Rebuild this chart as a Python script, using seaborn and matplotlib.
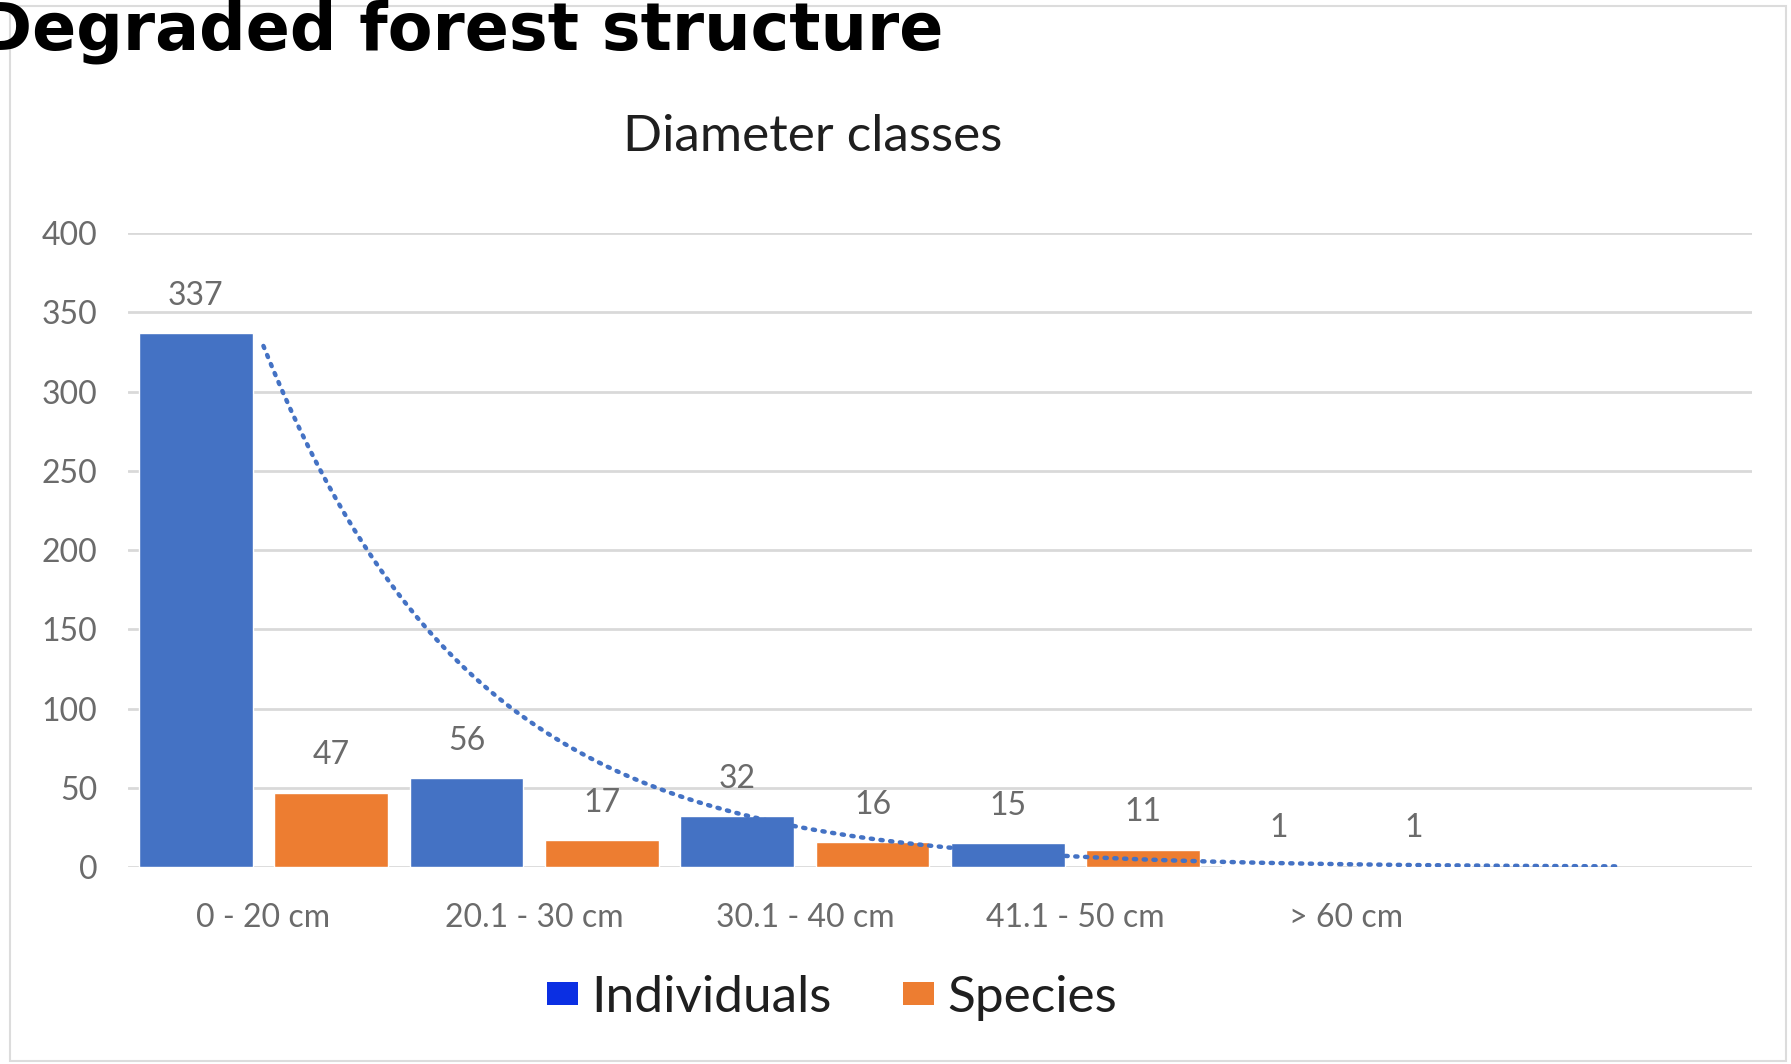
import numpy as np
import pandas as pd
import matplotlib
matplotlib.use("Agg")
import matplotlib.pyplot as plt
import seaborn as sns
from matplotlib.patches import Patch, Rectangle

# Tree counts per diameter class
diameter_classes = ["0 - 20 cm", "20.1 - 30 cm", "30.1 - 40 cm", "41.1 - 50 cm", "> 60 cm"]
individuals = [337, 56, 32, 15, 1]
species = [47, 17, 16, 11, 1]
series_names = ["Individuals", "Species"]
y_ticks = [0, 50, 100, 150, 200, 250, 300, 350, 400]

sns.set_theme(style="white")
plt.rcParams["font.family"] = ["Lato", "DejaVu Sans"]

df = pd.DataFrame({
    "Diameter class": diameter_classes * 2,
    "Count": individuals + species,
    "Series": [series_names[0]] * len(individuals) + [series_names[1]] * len(species),
})

BLUE = "#4472C4"
ORANGE = "#ED7D31"
GRAY_TXT = "#6b6b6b"
GRID = "#d9d9d9"

fig = plt.figure(figsize=(17.91, 10.64), dpi=100)
ax = fig.add_axes([0.0715, 0.185, 0.907, 0.596])

sns.barplot(
    data=df, x="Diameter class", y="Count", hue="Series",
    order=diameter_classes, hue_order=series_names,
    palette={series_names[0]: BLUE, series_names[1]: ORANGE},
    width=1.0, gap=0.16, saturation=1, legend=False, ax=ax, zorder=2,
)

# value labels above each bar
for container in ax.containers:
    ax.bar_label(container, padding=16, color=GRAY_TXT, fontsize=23)

# exponential trendline on the individuals, forecast one class forward
pos = np.arange(len(individuals))
slope, intercept = np.polyfit(pos, np.log(individuals), 1)
xs = np.linspace(0, len(individuals), 300)
trend = np.exp(intercept + slope * xs)
sns.lineplot(x=xs, y=trend, ax=ax, color=BLUE, lw=3.2,
             linestyle=(0, (0.5, 1.7)), dash_capstyle="round", zorder=3)

ax.set_ylim(0, 400)
ax.set_xlim(-0.5, len(diameter_classes) + 0.5)
ax.set_yticks(y_ticks)
ax.yaxis.grid(True, color=GRID, lw=2)
ax.xaxis.grid(False)
ax.set_axisbelow(True)
for side in ["top", "right", "left", "bottom"]:
    ax.spines[side].set_visible(False)
ax.tick_params(axis="both", length=0, labelsize=23, labelcolor=GRAY_TXT)
ax.tick_params(axis="y", pad=22)
ax.tick_params(axis="x", pad=26)
ax.set_xlabel("")
ax.set_ylabel("")

# chart frame
fig.add_artist(Rectangle((10 / 1791, 3 / 1064), 1776 / 1791, 1055 / 1064,
                         transform=fig.transFigure, fill=False,
                         edgecolor="#dcdcdc", lw=1.5, zorder=0))

fig.text(813 / 1791, 0.871, "Diameter classes", ha="center", va="center",
         fontsize=37, color="#1f1f1f")

fig.text(-22 / 1791, 1 - 49 / 1064, "Degraded forest structure", ha="left",
         va="baseline", fontsize=47, fontweight="bold", color="black",
         family=["DejaVu Sans"])

handles = [Patch(facecolor="#0b2fe3", edgecolor="none"),
           Patch(facecolor=ORANGE, edgecolor="none")]
fig.legend(handles, series_names, loc="center", bbox_to_anchor=(0.4645, 0.062),
           ncol=2, frameon=False, fontsize=37, handlelength=0.6,
           handleheight=0.3, handletextpad=0.25, columnspacing=1.4,
           labelcolor="#1f1f1f")

fig.savefig("out.png", dpi=100)
